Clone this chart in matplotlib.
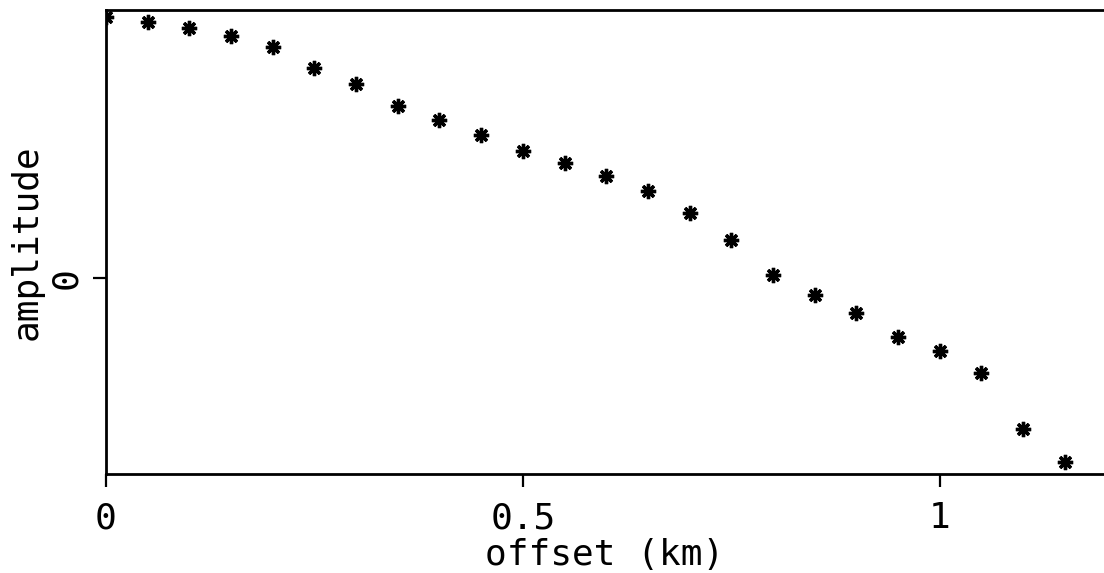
import numpy as np
import matplotlib.pyplot as plt

# offset (km) and picked amplitude (arbitrary units)
offset = [0.0, 0.05, 0.10, 0.15, 0.20, 0.25, 0.30, 0.35, 0.40, 0.45, 0.50, 0.55,
          0.60, 0.65, 0.70, 0.75, 0.80, 0.85, 0.90, 0.95, 1.00, 1.05, 1.10, 1.15]
amplitude = [2.61, 2.56, 2.50, 2.42, 2.31, 2.10, 1.94, 1.72, 1.58, 1.43, 1.27, 1.15,
             1.02, 0.87, 0.65, 0.38, 0.03, -0.17, -0.35, -0.59, -0.73, -0.95, -1.51, -1.84]

xticks = [0, 0.5, 1]
xticklabels = ['0', '0.5', '1']
yticks = [0]
yticklabels = ['0']

plt.rcParams['font.family'] = 'DejaVu Sans Mono'

fig = plt.figure(figsize=(11.04, 5.73), dpi=100)
ax = fig.add_axes([0.096, 0.1728, 0.904, 0.8098])

ax.plot(offset, amplitude, linestyle='none', marker=(8, 2, 0), markersize=11,
        markeredgewidth=2.4, color='black', clip_on=True)

ax.set_xlim(0, 1.197)
ax.set_ylim(-1.96, 2.68)
ax.set_xticks(xticks)
ax.set_xticklabels(xticklabels, fontsize=26)
ax.set_yticks(yticks)
ax.set_yticklabels(yticklabels, fontsize=26, rotation=90, va='center')

ax.tick_params(direction='out', length=9.5, width=1.6, colors='black')
ax.tick_params(axis='x', pad=10)
ax.tick_params(axis='y', pad=7)
ax.spines['right'].set_visible(False)
for s in ['left', 'bottom', 'top']:
    ax.spines[s].set_linewidth(2.0)

ax.set_xlabel('offset (km)', fontsize=26, labelpad=2)
ax.set_ylabel('amplitude', fontsize=26, labelpad=4)

fig.savefig('out.png', dpi=100)
